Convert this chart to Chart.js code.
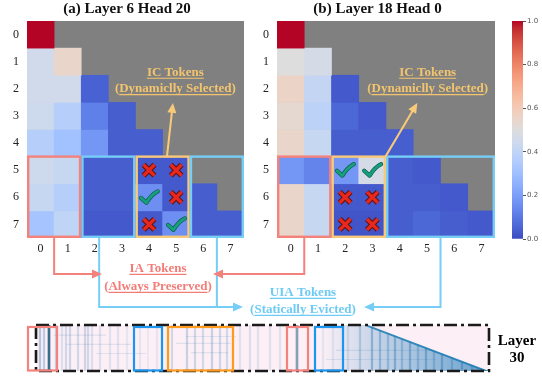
<!DOCTYPE html>
<html>
<head>
<meta charset="utf-8">
<script src="https://cdn.jsdelivr.net/npm/chart.js@4.4.0/dist/chart.umd.min.js"></script>
<style>
  html, body { margin: 0; padding: 0; background: #fff; }
  #fig { position: relative; width: 542px; height: 379px; overflow: hidden; }
  #fig canvas { position: absolute; }
</style>
</head>
<body>
<div id="fig">
  <canvas id="panelA" width="250" height="262" style="left:0;top:0"></canvas>
  <canvas id="panelB" width="250" height="262" style="left:250px;top:0"></canvas>
  <canvas id="cbar" width="42" height="262" style="left:500px;top:0"></canvas>
  <canvas id="strip" width="542" height="66" style="left:0;top:313px"></canvas>
  <canvas id="links" width="542" height="379" style="left:0;top:0;pointer-events:none"></canvas>
</div>
<script>
// ---- data -------------------------------------------------------------
const tokenLabels = ['0', '1', '2', '3', '4', '5', '6', '7'];

// attention weights, row = query token, col = key token (causal)
const attnLayer6Head20 = [
  [1.00],
  [0.45, 0.55],
  [0.45, 0.45, 0.05],
  [0.44, 0.37, 0.12, 0.04],
  [0.37, 0.31, 0.18, 0.04, 0.04],
  [0.44, 0.42, 0.04, 0.04, 0.03, 0.03],
  [0.42, 0.37, 0.04, 0.04, 0.16, 0.03, 0.04],
  [0.32, 0.40, 0.03, 0.03, 0.03, 0.16, 0.04, 0.04]
];
const attnLayer18Head0 = [
  [1.00],
  [0.50, 0.47],
  [0.56, 0.41, 0.03],
  [0.53, 0.39, 0.06, 0.03],
  [0.55, 0.42, 0.04, 0.04, 0.04],
  [0.18, 0.13, 0.18, 0.47, 0.04, 0.03],
  [0.55, 0.42, 0.03, 0.03, 0.04, 0.04, 0.03],
  [0.55, 0.42, 0.02, 0.02, 0.04, 0.06, 0.04, 0.03]
];

// selection marks: [row, col]
const crossesA = [[5, 4], [5, 5], [6, 5], [7, 4]];
const checksA  = [[6, 4], [7, 5]];
const crossesB = [[6, 2], [6, 3], [7, 2], [7, 3]];
const checksB  = [[5, 2], [5, 3]];

// token groups boxed on rows 5..7: [first col, last col, group]
const groupsA = [[0, 1, 'ia'], [2, 3, 'uia'], [4, 5, 'ic'], [6, 7, 'uia']];
const groupsB = [[0, 1, 'ia'], [2, 3, 'ic'], [4, 7, 'uia']];

const colorbarTicks = [0, 0.2, 0.4, 0.6, 0.8, 1.0];

// Layer 30 long-context map: key-token columns with attention mass
const layer30Strong = [[13, 0.9], [261, 0.55]];
const layer30Faint = [
  [4, 0.35], [8, 0.3], [20, 0.25], [26, 0.15], [30, 0.2], [34, 0.22], [42, 0.2], [49, 0.22],
  [52, 0.2], [56, 0.15], [64, 0.15], [74, 0.12], [82, 0.12], [91, 0.1], [104, 0.1], [112, 0.08],
  [121, 0.1], [136, 0.2], [151, 0.25], [159, 0.22], [167, 0.2], [176, 0.25], [184, 0.22], [191, 0.2],
  [204, 0.12], [214, 0.15], [222, 0.12], [234, 0.12], [244, 0.12], [287, 0.1], [297, 0.1], [312, 0.15],
  [324, 0.25], [336, 0.4], [344, 0.35], [352, 0.3], [359, 0.4], [366, 0.3], [374, 0.4], [382, 0.3],
  [390, 0.4], [398, 0.3], [406, 0.4], [416, 0.3], [426, 0.4], [436, 0.35]
];
// horizontal runs: [from key, to key, query position]
const layer30Runs = [
  [18, 70, 0.78], [150, 200, 0.75], [30, 95, 0.58], [140, 195, 0.6],
  [60, 110, 0.38], [155, 192, 0.4], [300, 420, 0.45], [290, 400, 0.25]
];
const layer30Keys = 453;
const layer30DiagStart = 332;   // key index where the causal diagonal begins
// boxed key spans in the Layer 30 map: [from, to, group]
const layer30Boxes = [[-8, 21, 'ia'], [98, 126, 'uia'], [132, 197, 'ic'], [251, 272, 'ia'], [279, 307, 'uia']];

// ---- style ------------------------------------------------------------
const SERIF = "'Liberation Serif', 'Times New Roman', serif";
const SANS = "'DejaVu Sans', sans-serif";
const MASK_GRAY = '#808080';
const COL = { ia: '#f4827c', uia: '#76cdf6', ic: '#f9c97a' };
const TXT = { ia: '#f47c77', uia: '#6ecbf5', ic: '#f2c46e' };
const STRIP_COL = { ia: '#f4827c', uia: '#1a96f0', ic: '#ff9a1c' };
const STRIP_BG = '#fcf0f6';

Chart.defaults.font.family = SERIF;
Chart.defaults.color = '#222';
Chart.defaults.animation = false;
Chart.defaults.plugins.legend.display = false;
Chart.defaults.plugins.tooltip.enabled = false;

// coolwarm diverging map
const CW = [[59,76,192],[68,90,204],[77,104,215],[87,117,225],[98,130,234],[108,142,241],[119,154,247],
  [130,165,251],[141,176,254],[152,185,255],[163,194,255],[174,201,253],[184,208,249],[194,213,244],
  [204,217,238],[213,219,230],[221,221,221],[229,216,209],[236,211,197],[241,204,185],[245,196,173],
  [247,187,160],[247,177,148],[247,166,135],[244,154,123],[241,141,111],[236,127,99],[229,112,88],
  [222,96,77],[213,80,66],[203,62,56],[192,40,47],[180,4,38]];
function coolwarm(v) {
  const t = Math.max(0, Math.min(1, v)) * 32;
  const i = Math.min(31, Math.floor(t));
  const f = t - i, a = CW[i], b = CW[i + 1];
  const m = k => Math.round(a[k] + (b[k] - a[k]) * f);
  return `rgb(${m(0)},${m(1)},${m(2)})`;
}

function underlinedText(ctx, text, cx, cy, color, size, inner) {
  ctx.save();
  ctx.font = `bold ${size}px ${SERIF}`;
  ctx.fillStyle = color;
  ctx.textAlign = 'center';
  ctx.textBaseline = 'middle';
  ctx.fillText(text, cx, cy);
  const w = ctx.measureText(text).width;
  let x0 = cx - w / 2, x1 = cx + w / 2;
  if (inner) { const p = ctx.measureText('(').width; x0 += p; x1 -= p; }
  ctx.strokeStyle = color;
  ctx.lineWidth = 1.2;
  ctx.beginPath();
  ctx.moveTo(x0, cy + size * 0.42);
  ctx.lineTo(x1, cy + size * 0.42);
  ctx.stroke();
  ctx.restore();
}

function arrow(ctx, pts, color, head) {
  ctx.save();
  ctx.strokeStyle = color; ctx.fillStyle = color; ctx.lineWidth = 2;
  const n = pts.length;
  const [tx, ty] = pts[n - 1], [px, py] = pts[n - 2];
  const ang = Math.atan2(ty - py, tx - px);
  ctx.beginPath();
  ctx.moveTo(pts[0][0], pts[0][1]);
  for (let i = 1; i < n - 1; i++) ctx.lineTo(pts[i][0], pts[i][1]);
  if (head) ctx.lineTo(tx - Math.cos(ang) * 6, ty - Math.sin(ang) * 6);
  else ctx.lineTo(tx, ty);
  ctx.stroke();
  if (head) {
    ctx.beginPath();
    ctx.moveTo(tx, ty);
    ctx.lineTo(tx - Math.cos(ang) * 10 - Math.sin(ang) * 4.5, ty - Math.sin(ang) * 10 + Math.cos(ang) * 4.5);
    ctx.lineTo(tx - Math.cos(ang) * 10 + Math.sin(ang) * 4.5, ty - Math.sin(ang) * 10 - Math.cos(ang) * 4.5);
    ctx.closePath();
    ctx.fill();
  }
  ctx.restore();
}

function drawCross(ctx, cx, cy, s) {
  const d = s * 0.2;
  ctx.save();
  ctx.lineCap = 'butt';
  [['#5e1410', 5.5], ['#e8271d', 3.4]].forEach(([c, w]) => {
    ctx.strokeStyle = c; ctx.lineWidth = w;
    ctx.beginPath();
    ctx.moveTo(cx - d, cy - d); ctx.lineTo(cx + d, cy + d);
    ctx.moveTo(cx + d, cy - d); ctx.lineTo(cx - d, cy + d);
    ctx.stroke();
  });
  ctx.restore();
}

function drawCheck(ctx, cx, cy, s) {
  ctx.save();
  ctx.lineCap = 'round'; ctx.lineJoin = 'round';
  [['#0d5e4b', 4.2], ['#17a07e', 2.8]].forEach(([c, w]) => {
    ctx.strokeStyle = c; ctx.lineWidth = w;
    ctx.beginPath();
    ctx.moveTo(cx - s * 0.3, cy + s * 0.02);
    ctx.lineTo(cx - s * 0.1, cy + s * 0.2);
    ctx.quadraticCurveTo(cx + s * 0.08, cy - s * 0.1, cx + s * 0.32, cy - s * 0.22);
    ctx.stroke();
  });
  ctx.restore();
}

// ---- heatmap panels ----------------------------------------------------
function makePanel(id, title, mat, crosses, checks, groups, icLabel, icArrowFrom, icArrowTo, padRight) {
  const datasets = mat.map((row, r) => ({
    data: tokenLabels.map((_, c) => (c <= r ? [r - 0.5, r + 0.5] : null)),
    backgroundColor: tokenLabels.map((_, c) => (c <= r ? coolwarm(row[c]) : 'rgba(0,0,0,0)')),
    barPercentage: 1, categoryPercentage: 1, grouped: false, borderWidth: 0
  }));

  const decor = {
    id: 'decor' + id,
    beforeDatasetsDraw(chart) {
      const { ctx, chartArea: a } = chart;
      ctx.save(); ctx.fillStyle = MASK_GRAY;
      ctx.fillRect(a.left, a.top, a.right - a.left, a.bottom - a.top);
      ctx.restore();
    },
    afterDraw(chart) {
      const { ctx, chartArea: a } = chart;
      const xs = chart.scales.x, ys = chart.scales.y;
      const cell = xs.getPixelForValue(1) - xs.getPixelForValue(0);
      // title
      ctx.save();
      ctx.font = `bold 15px ${SERIF}`; ctx.fillStyle = '#111';
      ctx.textAlign = 'center'; ctx.textBaseline = 'middle';
      ctx.fillText(title, (a.left + a.right) / 2 - 8.5, 9);
      ctx.restore();
      // marks
      crosses.forEach(([r, c]) => drawCross(ctx, xs.getPixelForValue(c), ys.getPixelForValue(r), cell));
      checks.forEach(([r, c]) => drawCheck(ctx, xs.getPixelForValue(c), ys.getPixelForValue(r), cell));
      // group boxes
      groups.forEach(([c0, c1, g]) => {
        const x0 = xs.getPixelForValue(c0 - 0.5) + 1.2, x1 = xs.getPixelForValue(c1 + 0.5) - 1.2;
        const y0 = ys.getPixelForValue(4.5), y1 = ys.getPixelForValue(7.5) - 1.2;
        ctx.save(); ctx.strokeStyle = COL[g]; ctx.lineWidth = 2.4;
        ctx.strokeRect(x0, y0, x1 - x0, y1 - y0);
        ctx.restore();
      });
      // IC call-out
      arrow(ctx, [[xs.getPixelForValue(icArrowFrom[0]), ys.getPixelForValue(icArrowFrom[1])],
                  [xs.getPixelForValue(icArrowTo[0]), ys.getPixelForValue(icArrowTo[1])]], COL.ic, true);
      underlinedText(ctx, 'IC Tokens', xs.getPixelForValue(icLabel[0]), ys.getPixelForValue(icLabel[1]), TXT.ic, 13, false);
      underlinedText(ctx, '(Dynamiclly Selected)', xs.getPixelForValue(icLabel[0]), ys.getPixelForValue(icLabel[2]), TXT.ic, 13, true);
    }
  };

  return new Chart(document.getElementById(id), {
    type: 'bar',
    data: { labels: tokenLabels, datasets },
    options: {
      responsive: false,
      layout: { padding: { top: 21, right: padRight, left: 0, bottom: 0 } },
      scales: {
        x: {
          type: 'category', offset: true,
          grid: { display: false, drawTicks: false }, border: { display: false },
          ticks: { padding: 4, font: { size: 12 }, color: '#222', maxRotation: 0 },
          afterFit(s) { s.height = 24; }
        },
        y: {
          type: 'linear', reverse: true, min: -0.5, max: 7.5,
          grid: { display: false, drawTicks: false }, border: { display: false },
          afterBuildTicks(s) { s.ticks = tokenLabels.map((_, i) => ({ value: i })); },
          ticks: { padding: 8, font: { size: 12 }, color: '#222', callback: v => tokenLabels[v] },
          afterFit(s) { s.width = 27; }
        }
      }
    },
    plugins: [decor]
  });
}

const chartA = makePanel('panelA', '(a) Layer 6 Head 20', attnLayer6Head20, crossesA, checksA, groupsA,
  [4.97, 1.41, 2.01], [4.66, 4.5], [4.88, 2.52], 6);
const chartB = makePanel('panelB', '(b) Layer 18 Head 0', attnLayer18Head0, crossesB, checksB, groupsB,
  [5.03, 1.41, 2.01], [3.48, 4.5], [4.65, 2.52], 5);

// ---- colour bar --------------------------------------------------------
new Chart(document.getElementById('cbar'), {
  type: 'bar',
  data: {
    labels: [''],
    datasets: [{
      data: [[0, 1]],
      barPercentage: 1, categoryPercentage: 1, borderWidth: 0,
      backgroundColor(ctx) {
        const a = ctx.chart.chartArea;
        if (!a) return CW[16];
        const g = ctx.chart.ctx.createLinearGradient(0, a.bottom, 0, a.top);
        CW.forEach((c, i) => g.addColorStop(i / 32, `rgb(${c[0]},${c[1]},${c[2]})`));
        return g;
      }
    }]
  },
  options: {
    responsive: false,
    layout: { padding: { top: 21, left: 12, right: 0, bottom: 23 } },
    scales: {
      x: { display: false },
      y: {
        position: 'right', min: 0, max: 1,
        grid: { drawOnChartArea: false, drawTicks: true, tickLength: 3, color: '#555' },
        border: { display: false },
        afterBuildTicks(s) { s.ticks = colorbarTicks.map(v => ({ value: v })); },
        ticks: { padding: 1, font: { family: SANS, size: 7 }, color: '#555', callback: v => v.toFixed(1) },
        afterFit(s) { s.width = 19; }
      }
    }
  }
});

// ---- Layer 30 map ------------------------------------------------------
const stripDecor = {
  id: 'stripDecor',
  beforeDatasetsDraw(chart) {
    const { ctx, chartArea: a } = chart;
    ctx.save(); ctx.fillStyle = STRIP_BG;
    ctx.fillRect(a.left, a.top, a.right - a.left, a.bottom - a.top);
    ctx.restore();
  },
  afterDraw(chart) {
    const { ctx, chartArea: a } = chart;
    const xs = chart.scales.x;
    // dash-dot frame
    ctx.save();
    ctx.strokeStyle = '#1a1a1a'; ctx.lineWidth = 2.6;
    ctx.setLineDash([13, 4, 3, 4]);
    ctx.strokeRect(a.left, a.top, a.right - a.left, a.bottom - a.top);
    ctx.restore();
    // boxed spans
    layer30Boxes.forEach(([k0, k1, g]) => {
      const x0 = xs.getPixelForValue(k0), x1 = xs.getPixelForValue(k1);
      ctx.save(); ctx.strokeStyle = STRIP_COL[g]; ctx.lineWidth = 2.2;
      ctx.strokeRect(x0, a.top + 2, x1 - x0, a.bottom - a.top - 2.5);
      ctx.restore();
    });
    ctx.save();
    ctx.font = `bold 15px ${SERIF}`; ctx.fillStyle = '#000';
    ctx.textAlign = 'center'; ctx.textBaseline = 'middle';
    ctx.fillText('Layer', 517, 28);
    ctx.fillText('30', 517, 45);
    ctx.restore();
  }
};

function runPoints(runs) {
  const pts = [];
  runs.forEach(([k0, k1, q]) => { pts.push({ x: k0, y: q }, { x: k1, y: q }, { x: k1, y: null }); });
  return pts;
}

new Chart(document.getElementById('strip'), {
  type: 'bar',
  data: {
    datasets: [
      {
        type: 'line', order: 6,
        data: [{ x: 285, y: 1 }, { x: layer30DiagStart, y: 1 }, { x: layer30Keys, y: 0 }],
        borderWidth: 0, pointRadius: 0, fill: 'origin',
        backgroundColor(ctx) {
          const a = ctx.chart.chartArea;
          if (!a) return 'rgba(43,140,190,0.3)';
          const xs = ctx.chart.scales.x;
          const g = ctx.chart.ctx.createLinearGradient(xs.getPixelForValue(285), 0, a.right, 0);
          g.addColorStop(0, 'rgba(60,140,195,0)');
          g.addColorStop(0.35, 'rgba(60,140,195,0.3)');
          g.addColorStop(1, 'rgba(35,125,185,0.7)');
          return g;
        }
      },
      {
        data: layer30Faint.map(([k, v]) => ({ x: k, y: [0, 1], v })), order: 5,
        barThickness: 1.6, grouped: false, borderWidth: 0,
        backgroundColor: ctx => `rgba(45,115,175,${ctx.raw ? ctx.raw.v : 0})`
      },
      {
        data: layer30Strong.map(([k, v]) => ({ x: k, y: [0, 1], v })), order: 4,
        barThickness: 2, grouped: false, borderWidth: 0,
        backgroundColor: ctx => `rgba(35,95,128,${ctx.raw ? ctx.raw.v : 0})`
      },
      {
        type: 'line', order: 3, data: runPoints(layer30Runs), spanGaps: false,
        borderColor: 'rgba(60,120,180,0.14)', borderWidth: 1.2, pointRadius: 0, fill: false
      },
      {
        type: 'line', order: 1,
        data: [{ x: layer30DiagStart, y: 1 }, { x: layer30Keys, y: 0 }],
        borderColor: 'rgba(30,125,180,0.85)', borderWidth: 4, pointRadius: 0, fill: false
      },
      {
        type: 'line', order: 0,
        data: [{ x: layer30DiagStart, y: 1 }, { x: layer30Keys, y: 0 }],
        borderWidth: 0, pointRadius: 0, fill: 'end', backgroundColor: STRIP_BG
      }
    ]
  },
  options: {
    responsive: false,
    layout: { padding: { top: 12, bottom: 8, left: 36, right: 53 } },
    scales: {
      x: { type: 'linear', min: 0, max: layer30Keys, offset: false, display: false },
      y: { type: 'linear', min: 0, max: 1, display: false }
    }
  },
  plugins: [stripDecor]
});

// ---- connectors between panels and group labels --------------------------
(function drawLinks() {
  const ctx = document.getElementById('links').getContext('2d');
  const at = (chart, left, xv, yv) => [left + chart.scales.x.getPixelForValue(xv), chart.scales.y.getPixelForValue(yv)];
  const aRed = at(chartA, 0, 0.5, 7.5), bRed = at(chartB, 250, 0.5, 7.5);
  const aBlue1 = at(chartA, 0, 2.16, 7.5), aBlue2 = at(chartA, 0, 6.5, 7.5), bBlue = at(chartB, 250, 5.5, 7.5);
  const yIA = 274, yUIA = 307;

  arrow(ctx, [aBlue1, [aBlue1[0], yUIA], [243, yUIA]], COL.uia, true);
  arrow(ctx, [aBlue2, [aBlue2[0], yUIA]], COL.uia, false);
  arrow(ctx, [bBlue, [bBlue[0], yUIA], [364, yUIA]], COL.uia, true);
  arrow(ctx, [aRed, [aRed[0], yIA], [102, yIA]], COL.ia, true);
  arrow(ctx, [bRed, [bRed[0], yIA], [213, yIA]], COL.ia, true);

  underlinedText(ctx, 'IA Tokens', 158, 269, TXT.ia, 13, false);
  underlinedText(ctx, '(Always Preserved)', 158, 287, TXT.ia, 13, true);
  underlinedText(ctx, 'UIA Tokens', 303, 293, TXT.uia, 13, false);
  underlinedText(ctx, '(Statically Evicted)', 303, 310, TXT.uia, 13, true);
})();
</script>
</body>
</html>
